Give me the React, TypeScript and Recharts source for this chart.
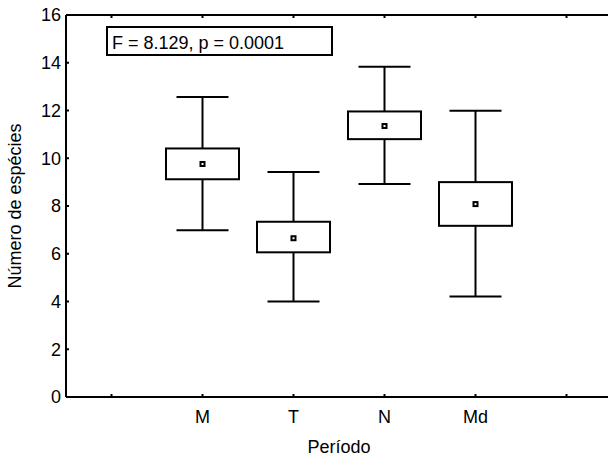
import { ComposedChart, Bar, XAxis, YAxis, CartesianGrid } from 'recharts'

// períodos (extra empty slots at both ends, as in the original plot)
const PERIODS = ['', 'M', 'T', 'N', 'Md', ' ']
const MIN_VALS = [null, 6.98, 4.0, 8.92, 4.21]
const Q1_VALS = [null, 9.12, 6.06, 10.8, 7.17]
const MEAN_VALS = [null, 9.76, 6.65, 11.35, 8.08]
const Q3_VALS = [null, 10.41, 7.34, 11.96, 9.0]
const MAX_VALS = [null, 12.57, 9.42, 13.83, 11.99]
const Y_TICKS = [0, 2, 4, 6, 8, 10, 12, 14, 16]
const FRAME_Y = [16]

const STAT_TEXT = 'F = 8.129, p = 0.0001'
const FONT = 'Arial, "Liberation Sans", sans-serif'
const INK = '#000'

const data = PERIODS.map((p, i) => {
  const min = MIN_VALS[i]
  const max = MAX_VALS[i]
  return {
    period: p,
    range: min == null || max == null ? null : [min, max],
    q1: Q1_VALS[i],
    q3: Q3_VALS[i],
    mean: MEAN_VALS[i],
  }
})

function BoxShape(props: any) {
  const { x, y, width, height, payload } = props
  if (!payload || !payload.range) return null
  const [min, max] = payload.range
  const top = Math.min(y, y + height)
  const bottom = Math.max(y, y + height)
  const ppu = (bottom - top) / (max - min)
  const yOf = (v: number) => top + (max - v) * ppu
  const cx = x + width / 2
  const cap = 26
  const yq3 = yOf(payload.q3)
  const yq1 = yOf(payload.q1)
  const ym = yOf(payload.mean)
  return (
    <g stroke={INK} strokeWidth={2} fill="none">
      <line x1={cx} y1={top} x2={cx} y2={yq3} />
      <line x1={cx} y1={yq1} x2={cx} y2={bottom} />
      <line x1={cx - cap} y1={top} x2={cx + cap} y2={top} />
      <line x1={cx - cap} y1={bottom} x2={cx + cap} y2={bottom} />
      <rect x={x} y={yq3} width={width} height={yq1 - yq3} fill="#fff" />
      <rect x={cx - 3} y={ym - 3} width={6} height={6} fill={INK} stroke="none" />
      <rect x={cx - 1} y={ym - 1} width={2} height={2} fill="#fff" stroke="none" />
    </g>
  )
}

export default function App() {
  const tickStyle = { fill: INK, fontSize: 18, fontFamily: FONT }
  const line = { stroke: INK, strokeWidth: 2 }
  return (
    <div style={{ position: 'fixed', left: 0, top: 0, width: 608, height: 461, overflow: 'hidden', background: '#fff' }}>
      <ComposedChart
        width={620}
        height={461}
        data={data}
        margin={{ top: 14, right: 8, bottom: 34, left: 6 }}
      >
        {/* top frame line of the plot */}
        <CartesianGrid horizontal vertical={false} horizontalValues={FRAME_Y} stroke={INK} strokeWidth={2} />
        <XAxis
          dataKey="period"
          height={30}
          stroke={INK}
          axisLine={line}
          tickLine={line}
          tickSize={-3}
          tickMargin={16}
          tick={tickStyle}
          interval={0}
          label={{ value: 'Período', position: 'bottom', offset: 13, fill: INK, fontSize: 18, fontFamily: FONT }}
        />
        <XAxis
          xAxisId="top"
          dataKey="period"
          orientation="top"
          height={1}
          stroke={INK}
          axisLine={line}
          tickLine={line}
          tickSize={-3}
          tickFormatter={() => ''}
          interval={0}
        />
        <YAxis
          width={60}
          domain={[0, 16]}
          ticks={Y_TICKS}
          stroke={INK}
          axisLine={line}
          tickLine={line}
          tickSize={-3}
          tickMargin={8}
          tick={tickStyle}
          label={{
            value: 'Número de espécies',
            angle: -90,
            position: 'insideLeft',
            offset: 9,
            fill: INK,
            fontSize: 18,
            fontFamily: FONT,
            style: { textAnchor: 'middle' },
          }}
        />
        <Bar dataKey="range" barSize={73} shape={<BoxShape />} isAnimationActive={false} />
      </ComposedChart>
      <svg width={608} height={461} style={{ position: 'absolute', left: 0, top: 0, pointerEvents: 'none' }}>
        <rect x={107} y={27} width={225} height={28} fill="#fff" stroke={INK} strokeWidth={2} />
        <text x={112} y={49} fontSize={18} fontFamily={FONT} fill={INK}>{STAT_TEXT}</text>
      </svg>
    </div>
  )
}
